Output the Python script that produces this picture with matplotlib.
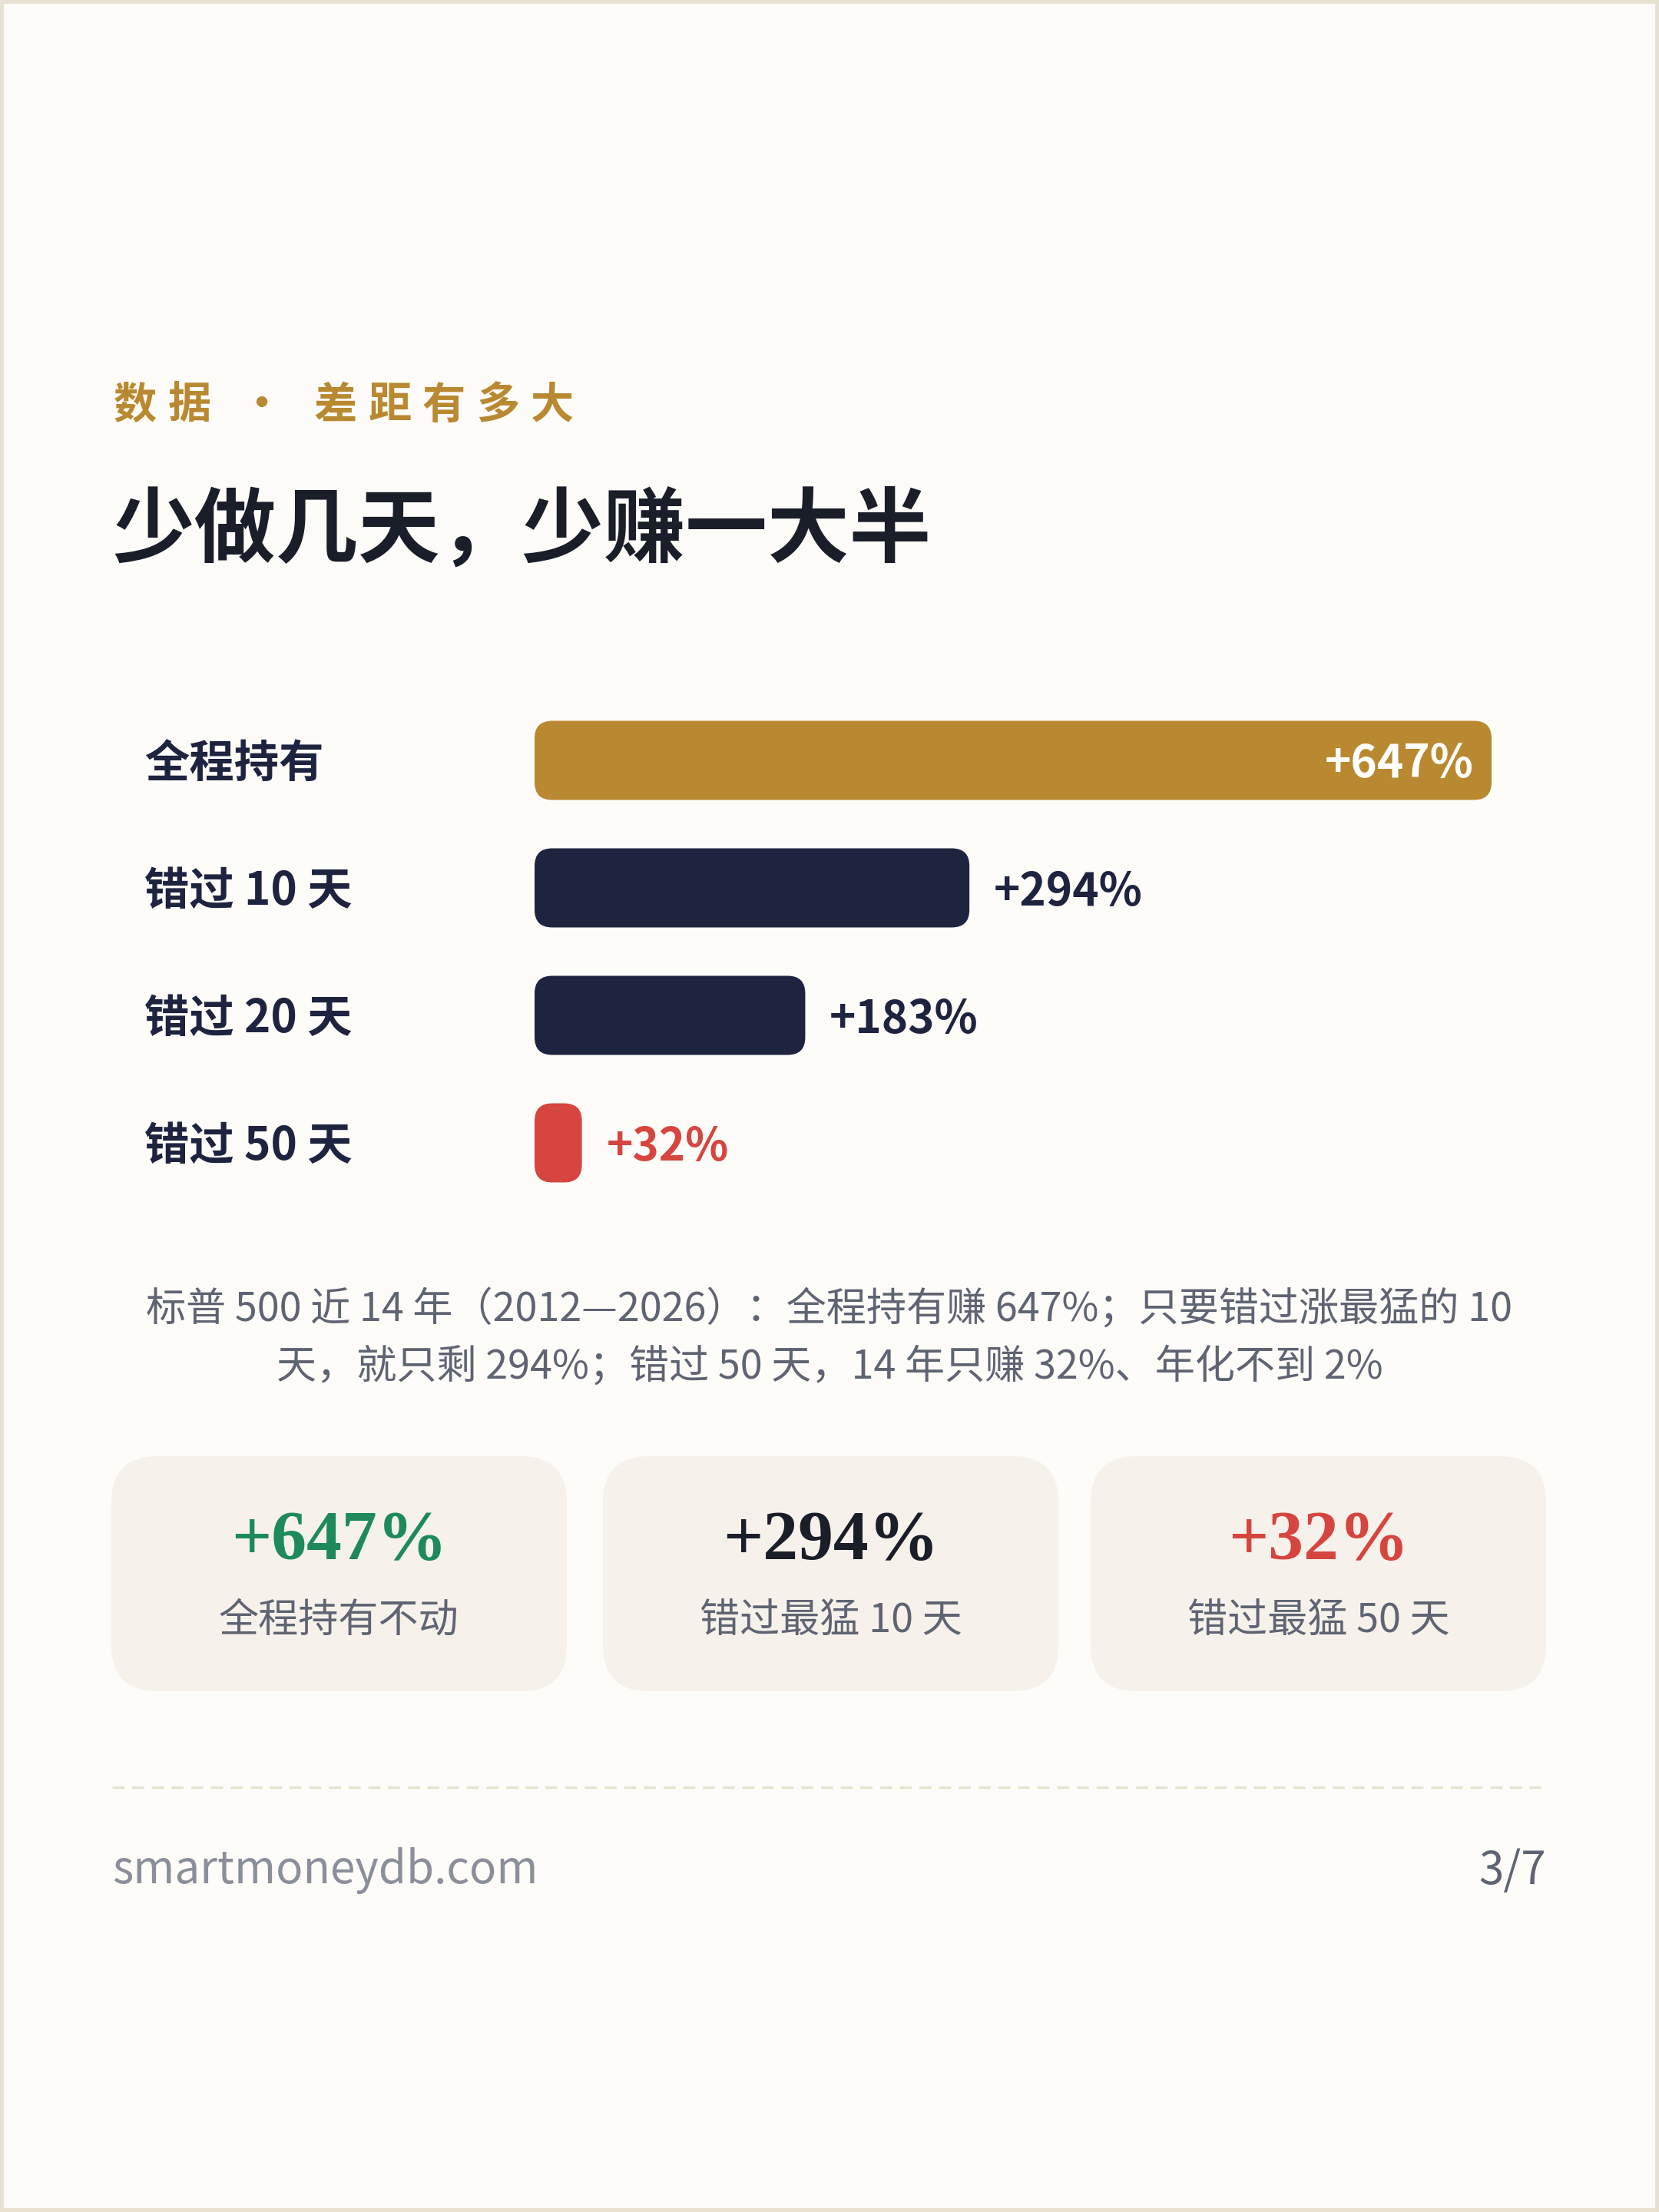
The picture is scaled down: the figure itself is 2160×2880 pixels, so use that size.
import matplotlib
matplotlib.use("Agg")
import matplotlib.pyplot as plt
from matplotlib.patches import FancyBboxPatch, Rectangle

plt.rcParams['font.family'] = ['Noto Sans CJK SC', 'DejaVu Sans']

# Data
categories = ["全程持有", "错过 10 天", "错过 20 天", "错过 50 天"]
returns = [647, 294, 183, 32]
bar_colors = ["#b98931", "#1e2340", "#1e2340", "#d6453f"]
label_colors = ["#ffffff", "#1e2340", "#1e2340", "#d6453f"]

card_values = ["+647%", "+294%", "+32%"]
card_captions = ["全程持有不动", "错过最猛 10 天", "错过最猛 50 天"]
card_colors = ["#1e8a5a", "#1a1e29", "#d6453f"]

kicker = ["数据", "·", "差距有多大"]
title = "少做几天，少赚一大半"
note_lines = ["标普 500 近 14 年（2012—2026）：全程持有赚 647%；只要错过涨最猛的 10",
              "天，就只剩 294%；错过 50 天，14 年只赚 32%、年化不到 2%"]
site = "smartmoneydb.com"
page = "3/7"

# Palette
bg = "#fdfcf8"
border = "#e7e1d1"
gold = "#b98931"
navy = "#1e2340"
gray = "#5f6473"
card_bg = "#f6f2eb"

W, H = 2160, 2880
fig = plt.figure(figsize=(7.2, 9.6), dpi=300, facecolor=bg)
ax = fig.add_axes([0, 0, 1, 1])
ax.set_xlim(0, W)
ax.set_ylim(H, 0)
ax.axis('off')

# page border
ax.add_patch(Rectangle((2, 2), W - 4, H - 4, fill=False, edgecolor=border, linewidth=1.4))

# kicker with letter spacing
pitch = 70.5
ky = 528
x = 148
for ch in kicker[0]:
    ax.text(x, ky, ch, fontsize=13.5, fontweight='bold', color=gold, ha='left', va='center')
    x += pitch
ax.text(340, ky, kicker[1], fontsize=13.5, fontweight='bold', color=gold, ha='center', va='center')
x = 409
for ch in kicker[2]:
    ax.text(x, ky, ch, fontsize=13.5, fontweight='bold', color=gold, ha='left', va='center')
    x += pitch

# title
ax.text(146, 692, title, fontsize=25.6, fontweight='heavy', color="#1a1e29", ha='left', va='center')

# bar chart area
bar_left, bar_px = 696, 1246
row0, row_step = 990, 166
n = len(categories)
top_px = row0 - row_step / 2
bax = fig.add_axes([bar_left / W, 1 - (top_px + n * row_step) / H, bar_px / W, n * row_step / H])
bax.set_xlim(0, max(returns))
bax.set_ylim(n - 0.5, -0.5)
bax.axis('off')
bax.patch.set_alpha(0)

bar_h = 103 / row_step
px_per_x = bar_px / max(returns)
radius_px = 23
rx = radius_px / px_per_x
ry = radius_px / row_step
for i, (cat, val) in enumerate(zip(categories, returns)):
    bax.add_patch(FancyBboxPatch((0, i - bar_h / 2), val, bar_h,
                                 boxstyle=f"round,pad=0,rounding_size={rx}",
                                 mutation_aspect=ry / rx,
                                 facecolor=bar_colors[i], edgecolor='none'))
    if i == 0:
        bax.annotate(f"+{val}%", (val, i), xytext=(-5.5, -1.3), textcoords='offset points',
                     ha='right', va='center', fontsize=14, fontweight='bold', color=label_colors[i])
    else:
        bax.annotate(f"+{val}%", (val, i), xytext=(7.6, -1.5), textcoords='offset points',
                     ha='left', va='center', fontsize=14, fontweight='bold', color=label_colors[i])
    ax.text(188, row0 + i * row_step + 5, cat, fontsize=14, fontweight='bold', color=navy,
            ha='left', va='center')

# note
for j, line in enumerate(note_lines):
    ax.text(W / 2, 1705 + j * 75, line, fontsize=12.5, color=gray, ha='center', va='center')

# cards
card_x = [145, 785, 1420]
card_w = 593
for k in range(3):
    ax.add_patch(FancyBboxPatch((card_x[k], 1896), card_w, 306,
                                boxstyle="round,pad=0,rounding_size=60",
                                facecolor=card_bg, edgecolor='none'))
    cx = card_x[k] + card_w / 2
    ax.text(cx, 2008, card_values[k], fontsize=22, fontweight='bold', color=card_colors[k],
            family=['Liberation Serif', 'DejaVu Serif'], ha='center', va='center')
    ax.text(cx, 2110, card_captions[k], fontsize=12.5, color=gray, ha='center', va='center')

# dashed rule
ax.plot([146, 2016], [2327, 2327], color=border, linewidth=0.75, linestyle=(0, (5, 3.2)))

# footer
ax.text(146, 2436, site, fontsize=14, color="#8a8f9a", ha='left', va='center')
ax.text(2013, 2436, page, fontsize=14, color=gray, ha='right', va='center')

fig.savefig("out.png", dpi=300, facecolor=bg)
